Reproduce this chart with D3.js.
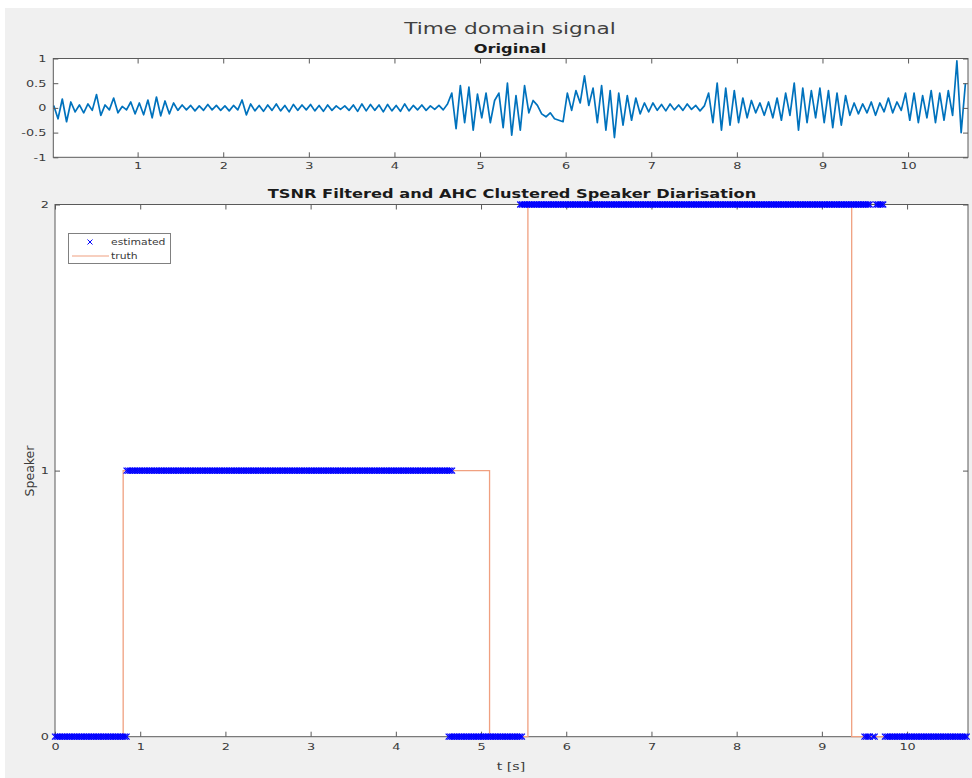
<!DOCTYPE html>
<html>
<head>
<meta charset="utf-8">
<script src="https://cdn.jsdelivr.net/npm/d3@7"></script>
<style>
  html, body { margin: 0; padding: 0; background: #ffffff; }
  svg { display: block; }
  text { font-family: "DejaVu Sans", sans-serif; }
</style>
</head>
<body>
<svg id="chart" width="972" height="778"></svg>
<script>
// ---------------- DATA ----------------
// Time-domain signal, sampled every 0.05 s starting at t = 0.02 s
const signalStart = 0.02;
const signalStep = 0.05;
const signalValues = [
  // 0.02 - 0.72
  0.05,-0.22,0.18,-0.28,0.12,-0.08,0.06,-0.1,0.08,-0.05,0.27,-0.15,0.06,-0.04,0.2,
  // 0.77 - 0.87
  -0.1,0.03,-0.04,
  // 0.92 - 1.42
  0.12,-0.12,0.1,-0.14,0.16,-0.2,0.22,-0.16,0.14,-0.12,0.1,
  // 1.47 - 2.17
  -0.05,0.06,-0.04,0.05,-0.06,0.04,-0.05,0.07,-0.04,0.05,-0.05,0.04,-0.06,0.05,-0.04,
  // 2.22 - 2.32
  0.16,-0.14,0.08,
  // 2.37 - 4.57
  -0.06,0.05,-0.07,0.06,-0.05,0.08,-0.06,0.05,-0.08,0.07,-0.05,0.06,-0.04,0.07,-0.06,
  0.05,-0.07,0.06,-0.05,0.04,-0.03,0.04,-0.05,0.06,-0.07,0.08,-0.06,0.07,-0.05,0.06,
  -0.08,0.07,-0.06,0.05,-0.07,0.08,-0.06,0.05,-0.04,0.06,-0.05,0.04,-0.03,0.05,-0.04,
  // 4.62 - 5.62
  0.08,0.3,-0.42,0.45,-0.3,0.42,-0.45,0.28,-0.2,0.3,-0.3,0.15,0.3,-0.4,0.5,-0.55,0.25,-0.45,0.45,-0.1,0.15,
  // 5.67 - 5.97
  0.05,-0.12,-0.18,-0.1,-0.22,-0.25,-0.28,
  // 6.02 - 6.77
  0.3,-0.05,0.35,0.1,0.65,0.05,0.4,-0.3,0.45,-0.45,0.35,-0.6,0.3,-0.35,0.25,-0.25,
  // 6.82 - 7.62
  0.2,-0.12,0.1,-0.08,0.1,-0.05,0.07,-0.06,0.08,-0.04,0.06,-0.05,0.08,-0.03,0.05,-0.06,0.04,
  // 7.67 - 8.42
  0.3,-0.3,0.5,-0.45,0.4,-0.35,0.35,-0.3,0.2,-0.2,0.15,-0.1,0.1,-0.15,0.12,-0.2,
  // 8.47 - 9.27
  0.2,-0.25,0.3,-0.15,0.5,-0.45,0.4,-0.3,0.35,-0.2,0.4,-0.3,0.35,-0.4,0.3,-0.35,0.25,
  // 9.32 - 9.92
  -0.15,0.1,-0.12,0.08,-0.1,0.12,-0.15,0.1,-0.08,0.2,-0.1,0.12,-0.05,
  // 9.97 - 10.52
  0.3,-0.25,0.3,-0.3,0.25,-0.2,0.35,-0.3,0.3,-0.25,0.35,-0.15,
  // 10.57 - 10.67
  0.95,-0.5,0.5
];

// Ground-truth speaker turns (step function)
const truthStart = [0, 0.80, 5.10, 5.55, 9.35];
const truthSpeaker = [0, 1, 0, 2, 0];
const truthEnd = 10.71;

// Estimated speaker segments (frames every 0.02 s)
const estStart   = [0.00, 0.84, 4.62, 5.46, 9.50, 9.60, 9.64, 9.74];
const estEnd     = [0.84, 4.66, 5.48, 9.56, 9.56, 9.62, 9.72, 10.70];
const estSpeaker = [0,    1,    0,    2,    0,    0,    2,    0];
const estFrameStep = 0.02;

// Tick labels
const topXTicks = [1,2,3,4,5,6,7,8,9,10];
const topYTicks = [-1,-0.5,0,0.5,1];
const botXTicks = [0,1,2,3,4,5,6,7,8,9,10];
const botYTicks = [0,1,2];

const figTitle = "Time domain signal";
const topTitle = "Original";
const botTitle = "TSNR Filtered and AHC Clustered Speaker Diarisation";
const xLabel = "t [s]";
const yLabel = "Speaker";
const legendLabels = ["estimated", "truth"];

// ---------------- DRAW ----------------
const svg = d3.select("#chart");
const STRETCH = 1.35;
const axisColor = "#5a5a5a";
const labelColor = "#3a3a3a";

svg.append("rect").attr("x", 5).attr("y", 8).attr("width", 967).attr("height", 770).attr("fill", "#f0f0f0");

// --- Top axes ---
const T = {l: 53.3, r: 968, t: 58.5, b: 157.3};
const xTop = d3.scaleLinear().domain([0.015, 10.70]).range([T.l, T.r]);
const yTop = d3.scaleLinear().domain([-1, 1]).range([T.b, T.t]);

svg.append("rect").attr("x", T.l).attr("y", T.t).attr("width", T.r - T.l).attr("height", T.b - T.t).attr("fill", "#ffffff");

const sigData = signalValues.map((v, i) => [signalStart + i * signalStep, v]);
svg.append("path")
  .datum(sigData)
  .attr("d", d3.line().x(d => xTop(d[0])).y(d => yTop(d[1])))
  .attr("fill", "none")
  .attr("stroke", "#0072bd")
  .attr("stroke-width", 1.7)
  .attr("stroke-linejoin", "round");

function styleAxis(g, showText) {
  g.select(".domain").remove();
  g.selectAll(".tick line").attr("stroke", axisColor);
  g.selectAll(".tick text").attr("fill", labelColor).style("font-size", "9.5px");
  if (!showText) g.selectAll(".tick text").remove();
}
const fmt = d => String(d);

svg.append("g").attr("transform", `translate(0,${T.b})`)
  .call(d3.axisBottom(xTop).tickValues(topXTicks).tickFormat(fmt).tickSize(-5).tickPadding(5))
  .call(g => styleAxis(g, true)).attr("class", "stretch-axis");
svg.append("g").attr("transform", `translate(0,${T.t})`)
  .call(d3.axisTop(xTop).tickValues(topXTicks).tickSize(-5))
  .call(g => styleAxis(g, false));
svg.append("g").attr("transform", `translate(${T.l},0)`)
  .call(d3.axisLeft(yTop).tickValues(topYTicks).tickFormat(fmt).tickSize(-5).tickPadding(7))
  .call(g => styleAxis(g, true)).attr("class", "stretch-axis");
svg.append("g").attr("transform", `translate(${T.r},0)`)
  .call(d3.axisRight(yTop).tickValues(topYTicks).tickSize(-5))
  .call(g => styleAxis(g, false));
svg.append("rect").attr("x", T.l).attr("y", T.t).attr("width", T.r - T.l).attr("height", T.b - T.t)
  .attr("fill", "none").attr("stroke", axisColor).attr("stroke-width", 1);

// --- Bottom axes ---
const B = {l: 55, r: 968, t: 204.5, b: 736.7};
const xBot = d3.scaleLinear().domain([0, 10.715]).range([B.l, B.r]);
const yBot = d3.scaleLinear().domain([0, 2]).range([B.b, B.t]);

svg.append("rect").attr("x", B.l).attr("y", B.t).attr("width", B.r - B.l).attr("height", B.b - B.t).attr("fill", "#ffffff");

svg.append("g").attr("transform", `translate(0,${B.b})`)
  .call(d3.axisBottom(xBot).tickValues(botXTicks).tickFormat(fmt).tickSize(-5).tickPadding(7))
  .call(g => styleAxis(g, true)).attr("class", "stretch-axis");
svg.append("g").attr("transform", `translate(0,${B.t})`)
  .call(d3.axisTop(xBot).tickValues(botXTicks).tickSize(-5))
  .call(g => styleAxis(g, false));
svg.append("g").attr("transform", `translate(${B.l},0)`)
  .call(d3.axisLeft(yBot).tickValues(botYTicks).tickFormat(fmt).tickSize(-5).tickPadding(6))
  .call(g => styleAxis(g, true)).attr("class", "stretch-axis");
svg.append("g").attr("transform", `translate(${B.r},0)`)
  .call(d3.axisRight(yBot).tickValues(botYTicks).tickSize(-5))
  .call(g => styleAxis(g, false));
svg.append("rect").attr("x", B.l).attr("y", B.t).attr("width", B.r - B.l).attr("height", B.b - B.t)
  .attr("fill", "none").attr("stroke", axisColor).attr("stroke-width", 1);

// truth step line
const truthData = truthStart.map((t, i) => [t, truthSpeaker[i]]);
truthData.push([truthEnd, truthSpeaker[truthSpeaker.length - 1]]);
const truthColor = "#f0a080";
svg.append("path")
  .datum(truthData)
  .attr("d", d3.line().x(d => xBot(d[0])).y(d => yBot(d[1])).curve(d3.curveStepAfter))
  .attr("fill", "none")
  .attr("stroke", truthColor)
  .attr("stroke-width", 1.3);

// estimated markers
const estFrames = [];
estStart.forEach((s, i) => {
  const n = Math.round((estEnd[i] - s) / estFrameStep);
  for (let k = 0; k <= n; k++) estFrames.push([s + k * estFrameStep, estSpeaker[i]]);
});
const mk = 3;
const markerPath = `M${-mk},${-mk}L${mk},${mk}M${-mk},${mk}L${mk},${-mk}`;
const estColor = "#0000ff";
svg.append("g").selectAll("path").data(estFrames).join("path")
  .attr("transform", d => `translate(${xBot(d[0])},${yBot(d[1])})`)
  .attr("d", markerPath)
  .attr("stroke", estColor)
  .attr("stroke-width", 1.2)
  .attr("fill", "none");

// legend
const lg = svg.append("g");
lg.append("rect").attr("x", 68.5).attr("y", 233.5).attr("width", 102).attr("height", 30)
  .attr("fill", "#ffffff").attr("stroke", "#808080").attr("stroke-width", 1);
lg.append("path").attr("transform", "translate(90,242)").attr("d", `M-2.5,-2.5L2.5,2.5M-2.5,2.5L2.5,-2.5`)
  .attr("stroke", estColor).attr("stroke-width", 1);
lg.append("line").attr("x1", 72).attr("x2", 109).attr("y1", 256).attr("y2", 256)
  .attr("stroke", truthColor).attr("stroke-width", 1.2);
lg.append("text").attr("class", "stretch").attr("x", 111).attr("y", 245).text(legendLabels[0])
  .style("font-size", "8px").attr("fill", labelColor);
lg.append("text").attr("class", "stretch").attr("x", 111).attr("y", 259).text(legendLabels[1])
  .style("font-size", "8px").attr("fill", labelColor);

// titles & labels
svg.append("text").attr("class", "stretch").attr("x", 510).attr("y", 34).attr("text-anchor", "middle")
  .style("font-size", "16px").attr("fill", "#404040").text(figTitle);
svg.append("text").attr("class", "stretch").attr("x", 510).attr("y", 53).attr("text-anchor", "middle")
  .style("font-size", "12px").style("font-weight", "bold").attr("fill", "#1a1a1a").text(topTitle);
svg.append("text").attr("class", "stretch").attr("x", 512).attr("y", 198).attr("text-anchor", "middle")
  .style("font-size", "12px").style("font-weight", "bold").attr("fill", "#1a1a1a").text(botTitle);
svg.append("text").attr("class", "stretch").attr("x", 511).attr("y", 770).attr("text-anchor", "middle")
  .style("font-size", "10.5px").attr("fill", labelColor).text(xLabel);
svg.append("text").attr("transform", "translate(34,471) rotate(-90)").attr("text-anchor", "middle")
  .style("font-size", "12.5px").attr("fill", labelColor).text(yLabel);

// horizontal stretch of text to mimic the reference's aspect
function stretch(sel, k) {
  sel.each(function () {
    const w = this.getComputedTextLength();
    if (w > 0) {
      this.setAttribute("textLength", (w * k).toFixed(2));
      this.setAttribute("lengthAdjust", "spacingAndGlyphs");
    }
  });
}
stretch(svg.selectAll("text.stretch"), STRETCH);
stretch(svg.selectAll(".stretch-axis .tick text"), STRETCH);
</script>
</body>
</html>
